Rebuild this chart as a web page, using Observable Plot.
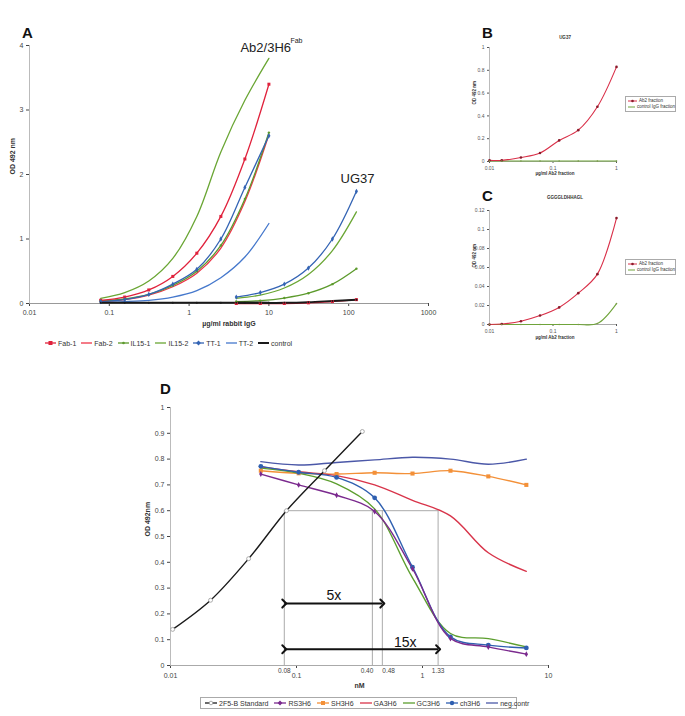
<!DOCTYPE html>
<html><head><meta charset="utf-8">
<script src="https://cdn.jsdelivr.net/npm/d3@7"></script>
<script src="https://cdn.jsdelivr.net/npm/@observablehq/plot@0.6"></script>
<style>
body{margin:0;background:#fff;font-family:"Liberation Sans",Arial,sans-serif;}
#root{position:relative;width:685px;height:716px;overflow:hidden;background:#fff;}
.letter{position:absolute;font-weight:bold;font-size:15px;line-height:1;color:#111;}
.leg{position:absolute;display:flex;align-items:center;white-space:nowrap;color:#333;}
.leg span.it{display:flex;align-items:center;}
.box{position:absolute;border:1px solid #aaa;background:#fff;color:#333;}
.box div{display:flex;align-items:center;white-space:nowrap;}
</style></head>
<body><div id="root"></div>
<script>
// ---------- Panel A data ----------
const xAb2 = [0.078, 0.156, 0.3125, 0.625, 1.25, 2.5, 5, 10];
const xUG37 = [3.9, 7.8, 15.6, 31.25, 62.5, 125];
const fab1Ab2  = [0.05, 0.10, 0.21, 0.42, 0.78, 1.35, 2.24, 3.40];
const fab2Ab2  = [0.03, 0.06, 0.13, 0.26, 0.47, 0.86, 1.58, 2.62];
const il151Ab2 = [0.04, 0.07, 0.14, 0.28, 0.50, 0.90, 1.62, 2.65];
const il152Ab2 = [0.08, 0.17, 0.35, 0.70, 1.35, 2.35, 3.15, 3.80];
const tt1Ab2   = [0.03, 0.06, 0.14, 0.30, 0.53, 1.00, 1.80, 2.60];
const tt2Ab2   = [0.02, 0.03, 0.05, 0.10, 0.20, 0.40, 0.72, 1.24];
const ctrlAb2  = [0.01, 0.01, 0.01, 0.01, 0.01, 0.01, 0.01, 0.01];
const tt1UG37   = [0.10, 0.17, 0.30, 0.55, 1.00, 1.74];
const il152UG37 = [0.08, 0.13, 0.24, 0.45, 0.82, 1.42];
const il151UG37 = [0.03, 0.045, 0.085, 0.16, 0.30, 0.54];
const fab1UG37  = [0.00, 0.00, 0.00, 0.01, 0.03, 0.06];
const ctrlUG37  = [0.01, 0.01, 0.01, 0.02, 0.04, 0.06];
const seriesA = ["Fab-1", "Fab-2", "IL15-1", "IL15-2", "TT-1", "TT-2", "control"];
const xTicksA = [0.01, 0.1, 1, 10, 100, 1000];
const yTicksA = [0, 1, 2, 3, 4];

// ---------- Panel B data ----------
const xB = [0.01, 0.0156, 0.03125, 0.0625, 0.125, 0.25, 0.5, 1];
const ab2B  = [0.01, 0.01, 0.035, 0.075, 0.185, 0.275, 0.48, 0.83];
const ctrlB = [0.005, 0.005, 0.005, 0.005, 0.005, 0.005, 0.005, 0.005];
const yTicksB = [0, 0.2, 0.4, 0.6, 0.8, 1];
// ---------- Panel C data ----------
const xC = [0.01, 0.0156, 0.03125, 0.0625, 0.125, 0.25, 0.5, 1];
const ab2C  = [0, 0.0005, 0.0035, 0.0094, 0.018, 0.033, 0.053, 0.112];
const ctrlC = [0, 0, 0, 0, 0, 0, 0.001, 0.022];
const yTicksC = [0, 0.02, 0.04, 0.06, 0.08, 0.1, 0.12];
const xTicksBC = [0.01, 0.1, 1];
const seriesBC = ["Ab2 fraction", "control IgG fraction"];

// ---------- Panel D data ----------
const xStd = [0.0104, 0.0208, 0.0417, 0.0833, 0.1667, 0.333];
const std2F5B = [0.14, 0.253, 0.414, 0.60, 0.755, 0.907];
const xConc = [0.0521, 0.104, 0.208, 0.417, 0.833, 1.667, 3.33, 6.67];
const rs3H6 = [0.742, 0.700, 0.660, 0.597, 0.375, 0.105, 0.072, 0.044];
const sh3H6 = [0.755, 0.745, 0.742, 0.747, 0.744, 0.755, 0.733, 0.700];
const ga3H6 = [0.770, 0.751, 0.736, 0.700, 0.640, 0.580, 0.437, 0.365];
const gc3H6 = [0.765, 0.745, 0.704, 0.607, 0.340, 0.124, 0.104, 0.072];
const ch3H6 = [0.772, 0.749, 0.729, 0.650, 0.381, 0.111, 0.079, 0.068];
const negContr = [0.790, 0.777, 0.787, 0.797, 0.807, 0.800, 0.780, 0.800];
const seriesD = ["2F5-B Standard", "RS3H6", "SH3H6", "GA3H6", "GC3H6", "ch3H6", "neg.contr"];
const refX = [0.08, 0.40, 0.48, 1.33];
const refLabelShift = [0, -4, 4, 0];
const refLevel = 0.6;
const arrowFrom = [0.08, 0.08];
const arrowTo = [0.48, 1.33];
const arrowY = [0.24, 0.063];
const arrowLabels = ["5x", "15x"];
const arrowLabelX = [0.198, 0.73];
const arrowLabelY = [0.272, 0.088];
const xTicksD = [0.01, 0.1, 1, 10];
const yTicksD = [0, 0.1, 0.2, 0.3, 0.4, 0.5, 0.6, 0.7, 0.8, 0.9, 1];

// ---------- helpers ----------
const FONT = "Liberation Sans, Arial, sans-serif";
const root = document.getElementById("root");
function place(node, left, top) {
  node.style.position = "absolute"; node.style.left = left + "px"; node.style.top = top + "px";
  root.appendChild(node);
}
function rows(series, group, xs, ys) { return xs.map((x, i) => ({series, group, key: series + "|" + group, x, y: ys[i]})); }

// ---------- Panel A ----------
const colorA = {"Fab-1": "#e0223c", "Fab-2": "#ee3348", "IL15-1": "#5c9a2c", "IL15-2": "#6aa634", "TT-1": "#3464b4", "TT-2": "#4578cc", "control": "#1a1a1a"};
const dataA = [
  ...rows("IL15-2", "Ab2", xAb2, il152Ab2), ...rows("Fab-2", "Ab2", xAb2, fab2Ab2),
  ...rows("IL15-1", "Ab2", xAb2, il151Ab2), ...rows("TT-1", "Ab2", xAb2, tt1Ab2),
  ...rows("TT-2", "Ab2", xAb2, tt2Ab2), ...rows("Fab-1", "Ab2", xAb2, fab1Ab2),
  ...rows("TT-1", "UG37", xUG37, tt1UG37), ...rows("IL15-2", "UG37", xUG37, il152UG37),
  ...rows("IL15-1", "UG37", xUG37, il151UG37), ...rows("Fab-1", "UG37", xUG37, fab1UG37)
];
const ctrlA = [...rows("control", "Ab2", xAb2, ctrlAb2), ...rows("control", "UG37", xUG37, ctrlUG37)];
const txt = {fontFamily: FONT};
const plotA = Plot.plot({
  width: 440, height: 340, marginLeft: 29, marginRight: 12, marginTop: 45, marginBottom: 37,
  style: {fontFamily: FONT, fontSize: "7px", color: "#444", background: "none", overflow: "visible"},
  x: {type: "log", domain: [0.01, 1000], ticks: xTicksA, tickFormat: d => String(d), tickSize: 3, tickPadding: 4, label: null},
  y: {domain: [0, 4], ticks: yTicksA, tickFormat: d => String(d), tickSize: 3, tickPadding: 3, label: null},
  color: {type: "identity"},
  marks: [
    Plot.ruleX([0.01], {stroke: "#bbb"}),
    Plot.ruleY([0], {stroke: "#999"}),
    Plot.line(dataA, {x: "x", y: "y", z: "key", stroke: d => colorA[d.series], strokeWidth: 1.3, curve: "catmull-rom"}),
    Plot.line(ctrlA, {x: "x", y: "y", z: "key", stroke: colorA["control"], strokeWidth: 2, curve: "catmull-rom"}),
    Plot.dot(dataA.filter(d => d.series === "Fab-1"), {x: "x", y: "y", symbol: "square", r: 1.7, fill: colorA["Fab-1"]}),
    Plot.dot(dataA.filter(d => d.series === "IL15-1"), {x: "x", y: "y", r: 1.2, fill: colorA["IL15-1"]}),
    Plot.dot(dataA.filter(d => d.series === "TT-1"), {x: "x", y: "y", symbol: "diamond", r: 1.6, fill: colorA["TT-1"]}),
    Plot.dot(ctrlA, {x: "x", y: "y", r: 1, fill: "#1a1a1a"}),
    Plot.text(["Ab2/3H6"], {x: 4.4, y: 3.97, text: d => d, textAnchor: "start", fontSize: 13, fill: "#222", ...txt}),
    Plot.text(["Fab"], {x: 18.6, y: 4.08, text: d => d, textAnchor: "start", fontSize: 7, fill: "#222", ...txt}),
    Plot.text(["UG37"], {x: 79, y: 1.94, text: d => d, textAnchor: "start", fontSize: 13, fill: "#222", ...txt}),
    Plot.text(["µg/ml rabbit IgG"], {frameAnchor: "bottom", dy: 22, text: d => d, fontWeight: "bold", fontSize: 7, fill: "#333", ...txt}),
    Plot.text(["OD 492 nm"], {frameAnchor: "left", dx: -17, rotate: -90, text: d => d, fontWeight: "bold", fontSize: 7, fill: "#333", ...txt})
  ]
});
place(plotA, 0, 0);

// ---------- Panel B / C ----------
const colBC = {"Ab2 fraction": "#d92f48", "control IgG fraction": "#6fa43a"};
function smallPlot(opts) {
  const {xs, ab2, ctrl, yDomain, yTicks, height, mt, mb, title, titleDy, xlabDy} = opts;
  const d1 = rows("Ab2 fraction", "", xs, ab2), d2 = rows("control IgG fraction", "", xs, ctrl);
  return Plot.plot({
    width: 225, height, marginLeft: 29, marginRight: 69, marginTop: mt, marginBottom: mb,
    style: {fontFamily: FONT, fontSize: "5px", color: "#555", background: "none", overflow: "visible"},
    x: {type: "log", domain: [0.01, 1], ticks: xTicksBC, tickFormat: d => String(d), tickSize: 2, tickPadding: 3, label: null},
    y: {domain: yDomain, ticks: yTicks, tickFormat: d => String(d), tickSize: 2, tickPadding: 3, label: null},
    marks: [
      Plot.ruleX([0.01], {stroke: "#bbb"}),
      Plot.ruleY([0], {stroke: "#aaa"}),
      Plot.line(d2, {x: "x", y: "y", stroke: colBC["control IgG fraction"], strokeWidth: 1.1, curve: "catmull-rom"}),
      Plot.line(d1, {x: "x", y: "y", stroke: colBC["Ab2 fraction"], strokeWidth: 1.1, curve: "catmull-rom"}),
      Plot.dot(d1, {x: "x", y: "y", r: 1.3, fill: "#8a1a2a"}),
      Plot.dot(d2, {x: "x", y: "y", r: 0.8, fill: "#7a9a4a"}),
      Plot.text([title], {frameAnchor: "top", dy: titleDy, dx: 12, text: d => d, fontWeight: "bold", fontSize: 4.5, fill: "#333", ...txt}),
      Plot.text(["µg/ml Ab2 fraction"], {frameAnchor: "bottom", dy: xlabDy, dx: 2, text: d => d, fontWeight: "bold", fontSize: 4.5, fill: "#333", ...txt}),
      Plot.text(["OD 492 nm"], {frameAnchor: "left", dx: -15, rotate: -90, text: d => d, fontWeight: "bold", fontSize: 4.5, fill: "#333", ...txt})
    ]
  });
}
place(smallPlot({xs: xB, ab2: ab2B, ctrl: ctrlB, yDomain: [0, 1], yTicks: yTicksB, height: 160, mt: 27, mb: 19, title: "UG37", titleDy: -12, xlabDy: 13}), 460, 20);
place(smallPlot({xs: xC, ab2: ab2C, ctrl: ctrlC, yDomain: [0, 0.12], yTicks: yTicksC, height: 170, mt: 35, mb: 21, title: "GGGGLDHHAGL", titleDy: -15, xlabDy: 14}), 460, 175);

// ---------- Panel D ----------
const colorD = {"2F5-B Standard": "#1a1a1a", "RS3H6": "#7b2a8e", "SH3H6": "#f39038", "GA3H6": "#d8344a", "GC3H6": "#5c9e2e", "ch3H6": "#2f5fb0", "neg.contr": "#4b58a8"};
const dStd = rows("2F5-B Standard", "", xStd, std2F5B);
const dRS = rows("RS3H6", "", xConc, rs3H6), dSH = rows("SH3H6", "", xConc, sh3H6), dGA = rows("GA3H6", "", xConc, ga3H6);
const dGC = rows("GC3H6", "", xConc, gc3H6), dCH = rows("ch3H6", "", xConc, ch3H6), dNeg = rows("neg.contr", "", xConc, negContr);
const arrows = arrowFrom.map((f, i) => ({x1: f, x2: arrowTo[i], y: arrowY[i], label: arrowLabels[i], lx: arrowLabelX[i], ly: arrowLabelY[i]}));
const refLabels = refX.map((x, i) => ({x, shift: refLabelShift[i]}));
const lineD = (data, name) => Plot.line(data, {x: "x", y: "y", stroke: colorD[name], strokeWidth: 1.4, curve: "catmull-rom"});
const plotD = Plot.plot({
  width: 470, height: 300, marginLeft: 70, marginRight: 22, marginTop: 17, marginBottom: 25,
  style: {fontFamily: FONT, fontSize: "7px", color: "#444", background: "none", overflow: "visible"},
  x: {type: "log", domain: [0.01, 10], ticks: xTicksD, tickFormat: d => String(d), tickSize: 3, tickPadding: 5, label: null},
  y: {domain: [0, 1], ticks: yTicksD, tickFormat: d => String(d), tickSize: 3, tickPadding: 3, label: null},
  marks: [
    Plot.ruleX([0.01], {stroke: "#bbb"}),
    Plot.ruleY([0], {stroke: "#aaa"}),
    Plot.ruleX(refX, {x: d => d, y1: 0, y2: refLevel, stroke: "#aaa", strokeWidth: 1}),
    Plot.link([{x1: refX[0], x2: refX[3], y: refLevel}], {x1: "x1", x2: "x2", y1: "y", y2: "y", stroke: "#aaa", strokeWidth: 1}),
    Plot.text(refLabels.filter(d => d.shift === 0), {x: "x", y: () => 0, dy: 5, text: d => d.x.toFixed(2), lineAnchor: "middle", fontSize: 6.5, fill: "#444", ...txt}),
    Plot.text(refLabels.filter(d => d.shift < 0), {x: "x", y: () => 0, dy: 5, dx: 1, text: d => d.x.toFixed(2), textAnchor: "end", lineAnchor: "middle", fontSize: 6.5, fill: "#444", ...txt}),
    Plot.text(refLabels.filter(d => d.shift > 0), {x: "x", y: () => 0, dy: 5, dx: 0, text: d => d.x.toFixed(2), textAnchor: "start", lineAnchor: "middle", fontSize: 6.5, fill: "#444", ...txt}),
    lineD(dNeg, "neg.contr"), lineD(dSH, "SH3H6"), lineD(dGA, "GA3H6"), lineD(dGC, "GC3H6"),
    lineD(dCH, "ch3H6"), lineD(dRS, "RS3H6"), lineD(dStd, "2F5-B Standard"),
    Plot.dot(dSH, {x: "x", y: "y", symbol: "square", r: 2.3, fill: colorD["SH3H6"]}),
    Plot.dot(dCH, {x: "x", y: "y", r: 2.4, fill: colorD["ch3H6"]}),
    Plot.dot(dRS, {x: "x", y: "y", symbol: "diamond", r: 1.8, fill: colorD["RS3H6"]}),
    Plot.dot(dStd, {x: "x", y: "y", r: 2, fill: "white", stroke: "#999", strokeWidth: 0.8}),
    Plot.link(arrows, {x1: "x1", x2: "x2", y1: "y", y2: "y", stroke: "#111", strokeWidth: 2, markerStart: "arrow", markerEnd: "arrow"}),
    Plot.text(arrows, {x: "lx", y: "ly", text: "label", fontSize: 14, fill: "#111", ...txt}),
    Plot.text(["nM"], {frameAnchor: "bottom", dy: 22, text: d => d, fontWeight: "bold", fontSize: 7, fill: "#333", ...txt}),
    Plot.text(["OD 492nm"], {frameAnchor: "left", dx: -23, rotate: -90, text: d => d, fontWeight: "bold", fontSize: 7, fill: "#333", ...txt})
  ]
});
place(plotD, 100, 390);

// ---------- panel letters ----------
[["A", 22, 25], ["B", 482, 25], ["C", 482, 188], ["D", 160, 381]].forEach(([t, l, tp]) => {
  const d = document.createElement("div"); d.className = "letter"; d.textContent = t; d.style.left = l + "px"; d.style.top = tp + "px"; root.appendChild(d);
});

// ---------- legends ----------
function sampleSvg(color, w, sw, marker, mcolor) {
  let m = "";
  const c = w / 2, mc = mcolor || color;
  if (marker === "square") m = `<rect x="${c - 2}" y="2" width="4" height="4" fill="${mc}"/>`;
  else if (marker === "circle") m = `<circle cx="${c}" cy="4" r="2.2" fill="${mc}"/>`;
  else if (marker === "small") m = `<circle cx="${c}" cy="4" r="1.3" fill="${mc}"/>`;
  else if (marker === "diamond") m = `<path d="M${c} 1.6L${c + 2.4} 4L${c} 6.4L${c - 2.4} 4Z" fill="${mc}"/>`;
  else if (marker === "ocircle") m = `<circle cx="${c}" cy="4" r="1.8" fill="white" stroke="#999" stroke-width="0.8"/>`;
  return `<svg width="${w}" height="8" style="display:block"><line x1="0" x2="${w}" y1="4" y2="4" stroke="${color}" stroke-width="${sw}"/>${m}</svg>`;
}
// Panel A legend
const markA = {"Fab-1": "square", "IL15-1": "small", "TT-1": "diamond"};
const legA = document.createElement("div"); legA.className = "leg";
legA.style.fontSize = "7px"; legA.style.gap = "5px"; legA.style.height = "10px";
seriesA.forEach(s => {
  const it = document.createElement("span"); it.className = "it";
  it.innerHTML = sampleSvg(colorA[s], 11, s === "control" ? 2 : 1.3, markA[s]) + `<span style="margin-left:2px">${s}</span>`;
  legA.appendChild(it);
});
place(legA, 45, 338);

// Panel B/C legend boxes
function boxLegend(left, top) {
  const b = document.createElement("div"); b.className = "box";
  b.style.width = "47px"; b.style.padding = "1px 0 1px 2px"; b.style.fontSize = "4.5px"; b.style.lineHeight = "6px";
  seriesBC.forEach((s, i) => {
    const r = document.createElement("div");
    r.innerHTML = sampleSvg(colBC[s], 9, 1, i === 0 ? "small" : null, "#8a1a2a").replace('height="8"', 'height="6"').replace(/y1="4" y2="4"/, 'y1="3" y2="3"').replace('cy="4"', 'cy="3"') + `<span style="margin-left:2px">${s}</span>`;
    b.appendChild(r);
  });
  place(b, left, top);
}
boxLegend(625, 96);
boxLegend(625, 259);

// Panel D legend
const markD = {"2F5-B Standard": "ocircle", "RS3H6": "diamond", "SH3H6": "square", "ch3H6": "circle"};
const legD = document.createElement("div"); legD.className = "box";
legD.style.display = "flex"; legD.style.alignItems = "center"; legD.style.gap = "6px";
legD.style.fontSize = "7px"; legD.style.height = "10px"; legD.style.padding = "0 4px"; legD.style.width = "307px"; legD.style.justifyContent = "space-between";
seriesD.forEach(s => {
  const it = document.createElement("span"); it.style.display = "flex"; it.style.alignItems = "center"; it.style.whiteSpace = "nowrap";
  it.innerHTML = sampleSvg(colorD[s], 12, 1.3, markD[s]) + `<span style="margin-left:2px">${s}</span>`;
  legD.appendChild(it);
});
place(legD, 200, 697);
</script>
</body></html>
